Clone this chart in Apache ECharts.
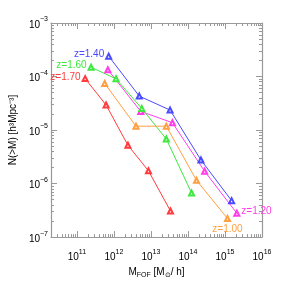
<!DOCTYPE html>
<html><head><meta charset="utf-8">
<script src="https://cdn.jsdelivr.net/npm/echarts@6/dist/echarts.min.js"></script>
<style>html,body{margin:0;padding:0;background:#fff}#c{width:284px;height:284px}</style>
</head><body><div id="c"></div>
<script>
// Data (mass in Msun/h, N(>M) in h^3 Mpc^-3)
const massZ140 = [7.23e11, 4.84e12, 3.29e13, 2.24e14, 1.51e15];
const nZ140    = [2.40e-4, 4.31e-5, 2.36e-5, 2.76e-6, 4.80e-7];
const massZ120 = [6.87e11, 5.31e12, 3.81e13, 2.82e14, 2.09e15];
const nZ120    = [1.34e-4, 2.23e-5, 1.37e-5, 1.70e-6, 2.79e-7];
const massZ160 = [2.42e11, 1.14e12, 5.65e12, 2.60e13, 1.25e14];
const nZ160    = [1.49e-4, 9.06e-5, 2.54e-5, 6.82e-6, 6.70e-7];
const massZ170 = [1.67e11, 6.15e11, 2.39e12, 8.59e12, 3.37e13];
const nZ170    = [9.14e-5, 2.94e-5, 5.21e-6, 1.73e-6, 3.08e-7];
const massZ100 = [5.65e11, 3.95e12, 2.60e13, 1.70e14, 1.17e15];
const nZ100    = [7.41e-5, 1.18e-5, 1.18e-5, 1.15e-6, 2.23e-7];
const xMajorExp = [11, 12, 13, 14, 15, 16];
const yMajorExp = [-7, -6, -5, -4, -3];
const xMin = Math.log10(2e10), xMax = 16, yMin = -7, yMax = -3;

const L = Math.log10;
function minors(lo, hi) {
  const out = [];
  for (let n = Math.floor(lo) - 1; n <= Math.ceil(hi); n++) {
    for (let k = 2; k <= 9; k++) {
      const v = n + L(k);
      if (v > lo + 1e-9 && v < hi - 1e-9) out.push(v);
    }
  }
  return out;
}
const AX = '#999';
const font = 'Liberation Sans, Arial, sans-serif';
const rich = {
  b: {fontSize: 10, fontFamily: font, color: '#000', lineHeight: 14, verticalAlign: 'bottom'},
  s: {fontSize: 7, fontFamily: font, color: '#000', lineHeight: 14, verticalAlign: 'top'}
};
function supLabel(v) { return '{b|10}{s|' + String(v).replace('-', '\u2212') + '}'; }

function xAx(pos, major, labels, extra) {
  const vals = major ? xMajorExp : minors(xMin, xMax);
  return Object.assign({
    type: 'value', min: xMin, max: xMax, position: pos,
    axisLine: {show: major, onZero: false, lineStyle: {color: AX, width: 1.2}},
    axisTick: {show: true, inside: true, length: major ? 6 : 3, customValues: vals, lineStyle: {color: AX}},
    axisLabel: labels ? {show: true, customValues: xMajorExp, formatter: supLabel, rich: rich, margin: 11} : {show: false},
    splitLine: {show: false}
  }, extra || {});
}
function yAx(pos, major, labels, extra) {
  const vals = major ? yMajorExp : minors(yMin, yMax);
  return Object.assign({
    type: 'value', min: yMin, max: yMax, position: pos,
    axisLine: {show: major, onZero: false, lineStyle: {color: AX, width: 1.2}},
    axisTick: {show: true, inside: true, length: major ? 6 : 3, customValues: vals, lineStyle: {color: AX}},
    axisLabel: labels ? {show: true, customValues: yMajorExp, formatter: supLabel, rich: rich, margin: 3} : {show: false},
    splitLine: {show: false}
  }, extra || {});
}

function mk(name, mass, n, color, labelIdx, labelCfg) {
  const data = mass.map((m, i) => {
    const d = {value: [L(m), L(n[i])]};
    if (i === labelIdx) d.label = Object.assign({show: true, formatter: name, color: color, fontSize: 10, fontFamily: font}, labelCfg);
    return d;
  });
  return {
    type: 'line', name: name, data: data, xAxisIndex: 0, yAxisIndex: 0,
    symbol: 'emptyTriangle', symbolSize: 5,
    lineStyle: {color: color, width: 1}, itemStyle: {color: color, borderWidth: 0.9},
    animation: false, z: 3
  };
}

const chart = echarts.init(document.getElementById('c'), null, {renderer: 'canvas'});
chart.setOption({
  backgroundColor: '#fff',
  animation: false,
  grid: {left: 49, right: 22, top: 23, bottom: 32, containLabel: false},
  xAxis: [
    xAx('bottom', true, true, {
      name: '{b|M}{sub|FOF}{b| [M}{sub|\u2299}{b|/ h]}', nameLocation: 'middle', nameGap: 27,
      nameTextStyle: {rich: {
        b: {fontSize: 10, fontFamily: font, color: '#000', lineHeight: 14, verticalAlign: 'middle'},
        sub: {fontSize: 7, fontFamily: font, color: '#000', lineHeight: 14, verticalAlign: 'bottom'}
      }}
    }),
    xAx('bottom', false, false),
    xAx('top', true, false),
    xAx('top', false, false)
  ],
  yAxis: [
    yAx('left', true, true, {
      name: 'N(>M) [h\u00B3Mpc\u207B\u00B3]', nameLocation: 'middle', nameGap: 14, nameRotate: 90,
      nameTextStyle: {fontSize: 10, fontFamily: font, color: '#000'}
    }),
    yAx('left', false, false),
    yAx('right', true, false),
    yAx('right', false, false)
  ],
  series: [
    mk('z=1.40', massZ140, nZ140, '#4a4aff', 0, {position: 'left', distance: 1, offset: [0, -2]}),
    mk('z=1.20', massZ120, nZ120, '#ff3ee8', 4, {position: 'right', distance: 1, offset: [0, -2]}),
    mk('z=1.60', massZ160, nZ160, '#3ee83e', 0, {position: 'left', distance: 1, offset: [0, -2]}),
    mk('z=1.70', massZ170, nZ170, '#ff3b3b', 0, {position: 'left', distance: 1, offset: [0, -1]}),
    mk('z=1.00', massZ100, nZ100, '#ffa040', 4, {position: 'bottom', distance: 1, offset: [0, 1]})
  ]
});
</script></body></html>
